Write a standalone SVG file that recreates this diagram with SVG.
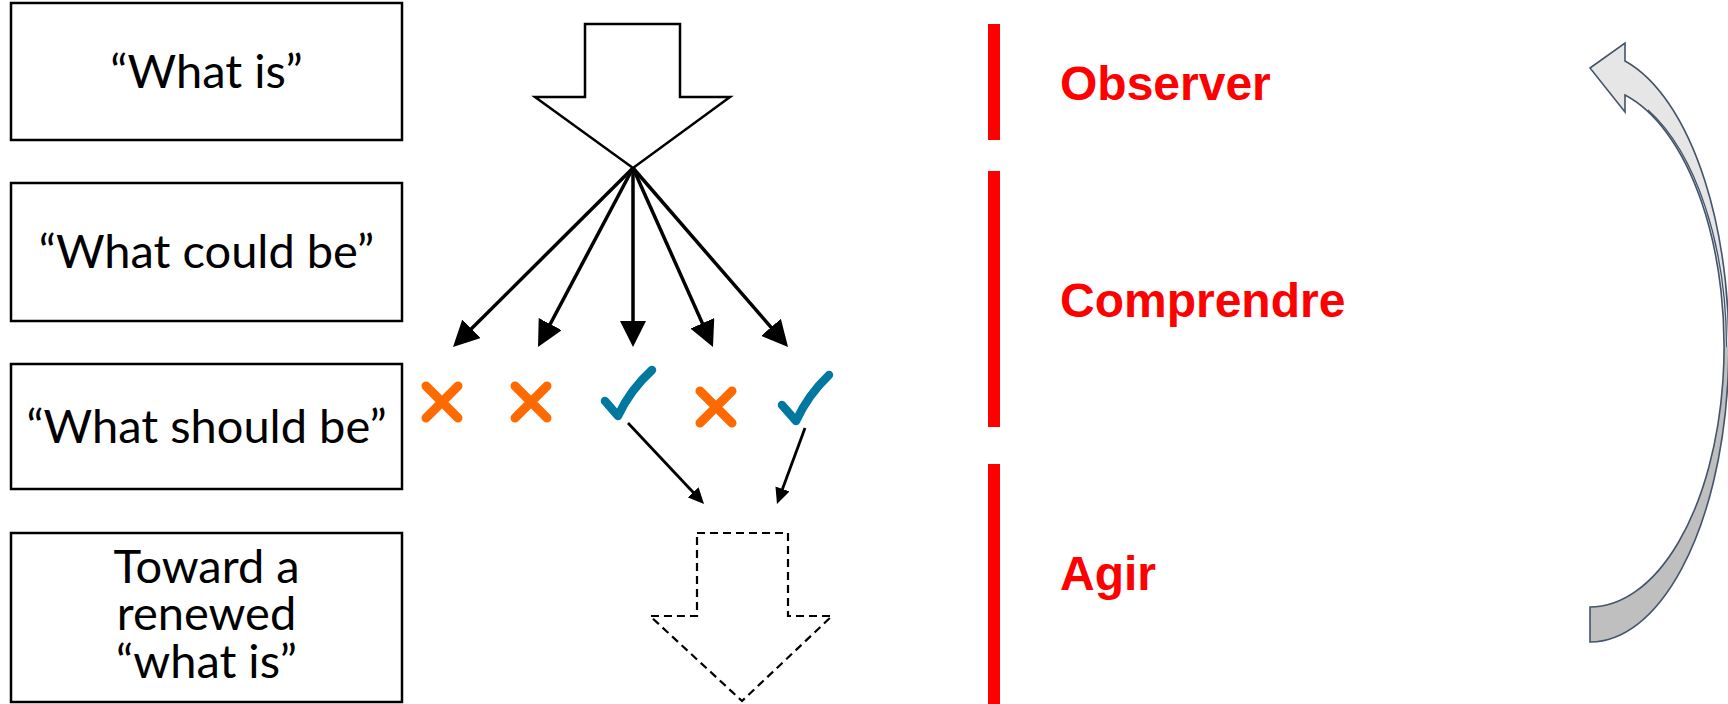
<svg xmlns="http://www.w3.org/2000/svg" width="1728" height="704" viewBox="0 0 1728 704">
  <style>
    .box { fill: #ffffff; stroke: #000000; stroke-width: 2.5; }
    .lbl { font-family: Lato, "Liberation Sans", sans-serif; font-size: 47px; fill: #000000; text-anchor: middle; }
    .phase { font-family: "Liberation Sans", Arial, sans-serif; font-weight: bold; font-size: 48px; fill: #ff0000; }
    .bar { fill: #ff0000; }
    .fan { stroke: #000000; stroke-width: 3.5; fill: none; marker-end: url(#headBig); }
    .pick { stroke: #000000; stroke-width: 2.8; fill: none; marker-end: url(#headSmall); }
    .cross { stroke: #ff6a00; stroke-width: 9; stroke-linecap: round; fill: none; }
    .tick { stroke: #00789f; stroke-width: 8.5; stroke-linecap: round; stroke-linejoin: round; fill: none; }
  </style>
  <defs>
    <marker id="headBig" markerUnits="userSpaceOnUse" markerWidth="26" markerHeight="26" refX="16" refY="13" orient="auto">
      <path d="M0,0 L26,13 L0,26 Z" fill="#000000"/>
    </marker>
    <marker id="headSmall" markerUnits="userSpaceOnUse" markerWidth="16" markerHeight="15" refX="11" refY="7.5" orient="auto">
      <path d="M0,0 L16,7.5 L0,15 Z" fill="#000000"/>
    </marker>
  </defs>

  <rect width="1728" height="704" fill="#ffffff"/>

  <!-- stage boxes on the left -->
  <g id="box-what-is">
    <rect class="box" x="11" y="3" width="391" height="137"/>
    <text class="lbl" x="206.5" y="88">“What is”</text>
  </g>
  <g id="box-what-could-be">
    <rect class="box" x="11" y="183" width="391" height="138"/>
    <text class="lbl" x="206.5" y="268">“What could be”</text>
  </g>
  <g id="box-what-should-be">
    <rect class="box" x="11" y="364" width="391" height="125"/>
    <text class="lbl" x="206.5" y="443">“What should be”</text>
  </g>
  <g id="box-renewed">
    <rect class="box" x="11" y="533" width="391" height="169"/>
    <text class="lbl" x="206.5" y="583">Toward a<tspan x="206.5" y="630">renewed</tspan><tspan x="206.5" y="678">“what is”</tspan></text>
  </g>

  <!-- block arrow feeding the options -->
  <g id="input-arrow">
    <path d="M585,24 L680,24 L680,97 L730,97 L633,168 L535,97 L585,97 Z" fill="#ffffff" stroke="#000000" stroke-width="2.5" stroke-linejoin="miter"/>
  </g>

  <!-- option verdicts -->
  <g id="option-1">
    <path class="cross" d="M426,386 L458,418 M458,386 L426,418"/>
  </g>
  <g id="option-2">
    <path class="cross" d="M515,386 L547,418 M547,386 L515,418"/>
  </g>
  <g id="option-3">
    <path class="tick" d="M605,401 L618,416 Q630,390 652,370"/>
  </g>
  <g id="option-4">
    <path class="cross" d="M700,391 L732,423 M732,391 L700,423"/>
  </g>
  <g id="option-5">
    <path class="tick" d="M782,405 L796,421 Q808,395 829,375"/>
  </g>

  <!-- dashed outcome arrow -->
  <g id="output-arrow">
    <path d="M697,533 L788,533 L788,616 L832,616 L742,701 L650,616 L697,616 Z" fill="none" stroke="#000000" stroke-width="2.2" stroke-dasharray="8,5"/>
  </g>

  <g id="connectors">
    <line class="fan" x1="633" y1="168" x2="460.1" y2="340"/>
    <line class="fan" x1="633" y1="168" x2="542.7" y2="338.2"/>
    <line class="fan" x1="633" y1="168" x2="633" y2="337"/>
    <line class="fan" x1="633" y1="168" x2="708.9" y2="337.9"/>
    <line class="fan" x1="633" y1="168" x2="781.5" y2="339.4"/>
    <line class="pick" x1="628" y1="423" x2="700.6" y2="500.3"/>
    <line class="pick" x1="805" y1="428" x2="778.7" y2="499.3"/>
  </g>

  <!-- phase markers -->
  <g id="phase-observer">
    <rect class="bar" x="988" y="24" width="12" height="116"/>
    <text class="phase" x="1060" y="100">Observer</text>
  </g>
  <g id="phase-comprendre">
    <rect class="bar" x="988" y="171" width="12" height="256"/>
    <text class="phase" x="1060" y="317">Comprendre</text>
  </g>
  <g id="phase-agir">
    <rect class="bar" x="988" y="464" width="12" height="240"/>
    <text class="phase" x="1060" y="590">Agir</text>
  </g>

  <!-- curved loop-back arrow -->
  <g id="loop-arrow">
    <path d="M1625,61 A138.5,295.2 0 0 1 1728.5,347 L1724,347 A134,260.5 0 0 0 1625,95 L1625,112 L1590,68 L1625,43 Z" fill="#e6e6e6"/>
    <path d="M1728.5,347 A138.5,295.2 0 0 1 1590,642 L1590,607 A134,260.5 0 0 0 1724,347 Z" fill="#bfbfbf"/>
    <path d="M1648,110 A136.5,262 0 0 1 1726.5,347" fill="none" stroke="#44546a" stroke-width="1.3"/>
    <path d="M1625,61 A138.5,295.2 0 0 1 1590,642 L1590,607 A134,260.5 0 0 0 1625,95 L1625,112 L1590,68 L1625,43 Z" fill="none" stroke="#44546a" stroke-width="1.6" stroke-linejoin="miter"/>
  </g>
</svg>
